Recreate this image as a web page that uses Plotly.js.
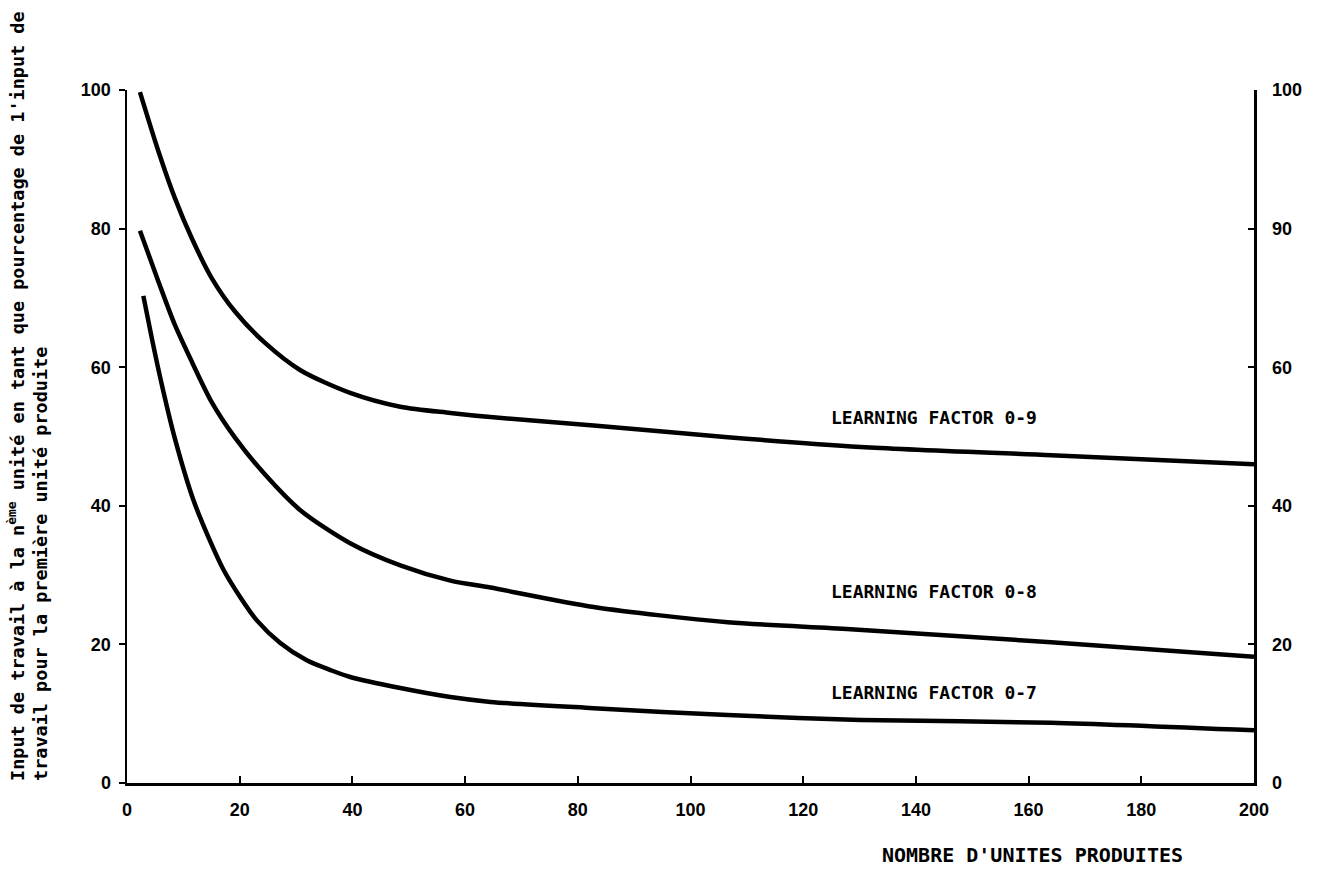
<!DOCTYPE html>
<html>
<head>
<meta charset="utf-8">
<script src="https://cdn.plot.ly/plotly-3.0.1.min.js"></script>
<style>
  html, body { margin: 0; padding: 0; background: #fff; }
  #chart { width: 1328px; height: 870px; }
</style>
</head>
<body>
<div id="chart"></div>
<script>
// ---- Data ----
const x09 = [2.3, 5.6, 8.5, 11.5, 15.0, 19.2, 24.5, 30.7, 39.6, 48.5, 57.4, 64.5, 82.8, 106.6, 130.2, 164, 200];
const y09 = [99.7, 91.1, 84.4, 78.6, 72.9, 68.0, 63.5, 59.6, 56.3, 54.3, 53.4, 52.8, 51.6, 49.9, 48.5, 47.3, 46.0];

const x08 = [2.3, 5.6, 8.5, 11.5, 15.0, 19.2, 24.5, 30.7, 39.6, 48.5, 57.4, 64.5, 82.8, 106.6, 128.4, 164, 200];
const y08 = [79.7, 72.3, 66.1, 60.8, 55.0, 49.8, 44.5, 39.4, 34.6, 31.4, 29.2, 28.2, 25.4, 23.2, 22.2, 20.3, 18.2];

const x07 = [2.9, 4.4, 6.2, 8.5, 11.8, 14.7, 17.1, 20.1, 23.0, 27.2, 31.9, 36.1, 39.6, 48.5, 57.4, 64.5, 82.8, 106.6, 130.2, 164, 200];
const y07 = [70.3, 64.2, 57.4, 49.7, 40.8, 35.0, 30.8, 26.8, 23.5, 20.2, 17.7, 16.3, 15.3, 13.7, 12.4, 11.7, 10.8, 9.8, 9.1, 8.7, 7.6];

const seriesLabels = ["LEARNING FACTOR 0-9", "LEARNING FACTOR 0-8", "LEARNING FACTOR 0-7"];
const labelX = [124.5, 124.5, 124.5];
const labelY = [52.8, 27.6, 13.1];

const xTickVals = [0, 20, 40, 60, 80, 100, 120, 140, 160, 180, 200];
const yTickVals = [0, 20, 40, 60, 80, 100];
const yRightTickText = ["0", "20", "40", "60", "90", "100"];

const xTitle = "NOMBRE D'UNITES PRODUITES";
const yTitleLine1 = "Input de travail à la n<sup>ème</sup> unité en tant que pourcentage de 1'input de";
const yTitleLine2 = "travail pour la première unité produite";

// ---- Styling ----
const tickFont = { family: "Liberation Sans Narrow, Arial Narrow, sans-serif", size: 18, color: "#000", weight: "bold" };
const monoFont = { family: "DejaVu Sans Mono, monospace", size: 18, color: "#000", weight: "bold" };

function curve(x, y, name, yaxis) {
  return {
    x: x, y: y, name: name, type: "scatter", mode: "lines", yaxis: yaxis,
    line: { color: "#000", width: 4.5, shape: "spline", smoothing: 0.8 },
    hoverinfo: "skip"
  };
}

const traces = [
  curve(x09, y09, seriesLabels[0], "y"),
  curve(x08, y08, seriesLabels[1], "y"),
  curve(x07, y07, seriesLabels[2], "y2")
];

const annotations = seriesLabels.map((t, i) => ({
  text: t, x: labelX[i], y: labelY[i], xref: "x", yref: "y",
  xanchor: "left", yanchor: "middle", showarrow: false, font: monoFont
}));

annotations.push({
  text: xTitle, xref: "x", yref: "paper", x: 160.7, y: -0.104,
  xanchor: "center", yanchor: "middle", showarrow: false,
  font: Object.assign({}, monoFont, { size: 20 })
});
annotations.push({
  text: yTitleLine1, xref: "paper", yref: "paper", x: -0.0985, y: 0,
  xanchor: "center", yanchor: "bottom", textangle: -90, showarrow: false,
  font: Object.assign({}, monoFont, { size: 18.5 })
});
annotations.push({
  text: yTitleLine2, xref: "paper", yref: "paper", x: -0.0772, y: 0,
  xanchor: "center", yanchor: "bottom", textangle: -90, showarrow: false,
  font: Object.assign({}, monoFont, { size: 18.5 })
});

const layout = {
  width: 1328, height: 870,
  margin: { l: 127, r: 74, t: 90, b: 87 },
  paper_bgcolor: "#fff", plot_bgcolor: "#fff",
  showlegend: false,
  xaxis: {
    range: [0, 200], tickvals: xTickVals, ticks: "inside", ticklen: 7, tickwidth: 2,
    tickcolor: "#000", showline: true, linecolor: "#000", linewidth: 2.5,
    showgrid: false, zeroline: false, tickfont: tickFont, ticklabelstandoff: 9
  },
  yaxis: {
    range: [0, 100], tickvals: yTickVals, ticks: "outside", ticklen: 6, tickwidth: 2,
    tickcolor: "#000", showline: true, linecolor: "#000", linewidth: 2.5,
    showgrid: false, zeroline: false, tickfont: tickFont, ticklabelstandoff: 4
  },
  yaxis2: {
    range: [0, 100], overlaying: "y", side: "right", anchor: "x",
    tickvals: yTickVals, ticktext: yRightTickText, ticks: "inside", ticklen: 6, tickwidth: 2,
    tickcolor: "#000", showline: true, linecolor: "#000", linewidth: 2.5,
    showgrid: false, zeroline: false, tickfont: tickFont, ticklabelstandoff: 12
  },
  annotations: annotations
};

Plotly.newPlot("chart", traces, layout, { staticPlot: true });
</script>
</body>
</html>
